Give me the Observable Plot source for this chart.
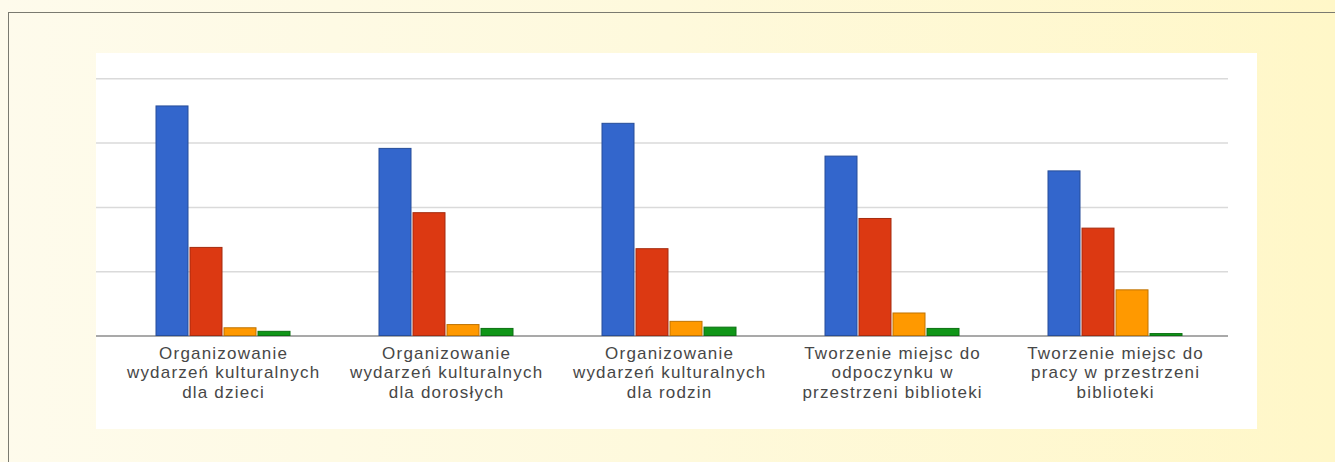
<!DOCTYPE html>
<html>
<head>
<meta charset="utf-8">
<script src="https://cdn.jsdelivr.net/npm/d3@7"></script>
<script src="https://cdn.jsdelivr.net/npm/@observablehq/plot@0.6"></script>
<style>
html,body{margin:0;padding:0;width:1335px;height:462px;overflow:hidden;
  background:linear-gradient(to right,#fefbec 0%,#fef9dc 50%,#fff7c8 100%);}
#frame{position:absolute;left:8px;top:12px;width:1400px;height:520px;
  border-top:1px solid #7a7a70;border-left:1px solid #7a7a70;}
#panel{position:absolute;left:96px;top:53px;width:1161px;height:376px;background:#fff;}
#panel svg{position:absolute;left:0;top:0;}
</style>
</head>
<body>
<div id="frame"></div>
<div id="panel"></div>
<script>
// ---- data ----
const categories = [
  "Organizowanie\nwydarzeń kulturalnych\ndla dzieci",
  "Organizowanie\nwydarzeń kulturalnych\ndla dorosłych",
  "Organizowanie\nwydarzeń kulturalnych\ndla rodzin",
  "Tworzenie miejsc do\nodpoczynku w\nprzestrzeni biblioteki",
  "Tworzenie miejsc do\npracy w przestrzeni\nbiblioteki"
];
const seriesNames = ["Seria 1", "Seria 2", "Seria 3", "Seria 4"];
const series1 = [35.7, 29.1, 33.0, 27.9, 25.6];
const series2 = [13.7, 19.1, 13.5, 18.2, 16.7];
const series3 = [1.2, 1.7, 2.2, 3.5, 7.1];
const series4 = [0.65, 1.1, 1.3, 1.1, 0.3];
const gridTicks = [10, 20, 30, 40];
const colors = ["#3366cc", "#dc3912", "#ff9900", "#109618"];

const allSeries = [series1, series2, series3, series4];
const rows = categories.flatMap((c, i) =>
  seriesNames.map((s, j) => ({category: c, series: s, value: allSeries[j][i]})));

const common = {
  width: 1161, height: 376,
  marginLeft: 0, marginRight: 29, marginTop: 25.3, marginBottom: 93.5,
  y: {domain: [0, 40], axis: null}
};

// background layer: gridlines + baseline
const bg = Plot.plot({
  ...common,
  style: {background: "transparent"},
  marks: [
    Plot.ruleY(gridTicks, {stroke: "#dadada", strokeWidth: 1.5}),
    Plot.ruleY([0], {stroke: "#555", strokeWidth: 1.2})
  ]
});

// foreground layer: bars + category labels
const fg = Plot.plot({
  ...common,
  style: {background: "transparent", fontFamily: "'Liberation Sans', Arial, sans-serif", letterSpacing: "1.2px"},
  fx: {domain: categories, paddingInner: 0.368, paddingOuter: 0.222, align: 0.568, axis: null, label: null},
  x: {domain: seriesNames, padding: 0.063, axis: null},
  color: {domain: seriesNames, range: colors},
  marks: [
    Plot.barY(rows, {
      fx: "category", x: "series", y: "value", fill: "series",
      stroke: d => d3.color(colors[seriesNames.indexOf(d.series)]).darker(0.8).formatHex(),
      strokeWidth: 1
    }),
    Plot.text(categories, {
      fx: d => d, text: d => d,
      frameAnchor: "bottom", lineAnchor: "top", dy: 9, dx: 0.6,
      fontSize: 17, lineHeight: 1.15, fill: "#474747", textAnchor: "middle"
    })
  ]
});

const panel = document.getElementById("panel");
panel.appendChild(bg);
panel.appendChild(fg);
</script>
</body>
</html>
